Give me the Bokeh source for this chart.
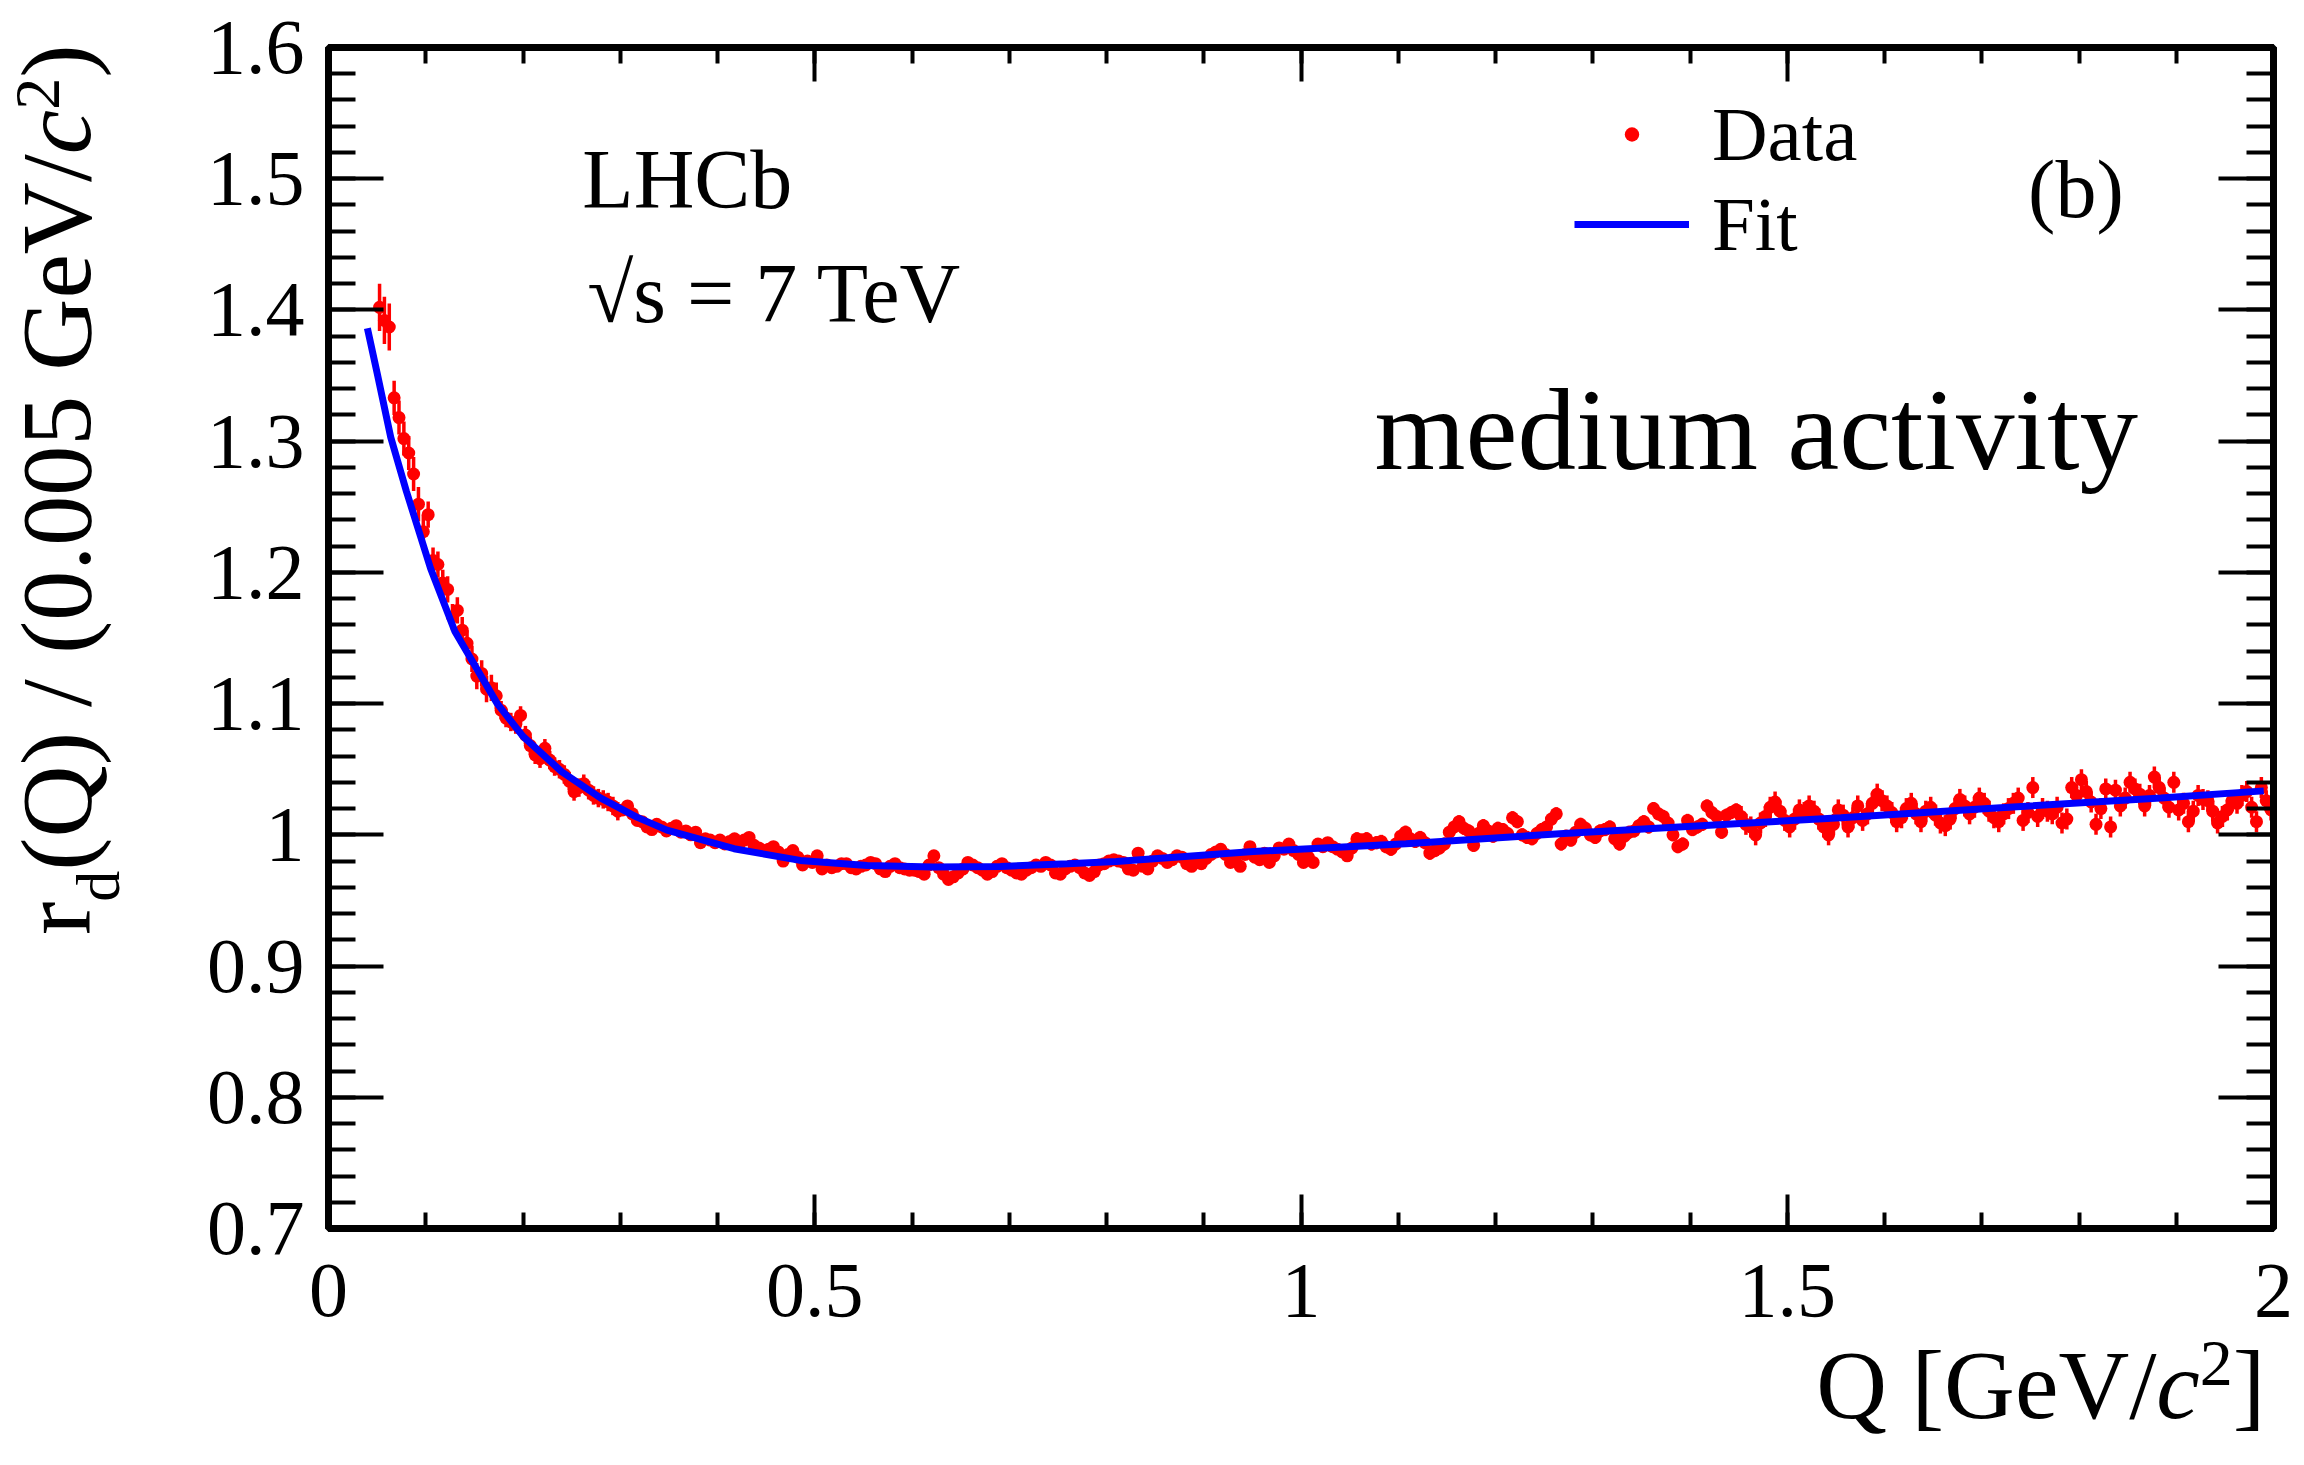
import math
from bokeh.plotting import figure
from bokeh.models import (Range1d, FixedTicker, LinearAxis, CustomJSTickFormatter,
                          Label, Legend, LegendItem, ColumnDataSource, Title)
from bokeh.embed import file_html
from bokeh.resources import INLINE

# ---------------- data ----------------
Q_FIRST = 0.0525      # centre of first filled bin [GeV/c^2]
Q_BIN = 0.005         # bin width [GeV/c^2]

r_values = [
    # 0.0525 - 0.0975
    1.402, 1.392, 1.387, 1.333, 1.318, 1.302, 1.291, 1.275, 1.252, 1.231,
    # 0.1025 - 0.1475
    1.244, 1.209, 1.206, 1.192, 1.187, 1.166, 1.171, 1.156, 1.146, 1.134,
    # 0.1525 - 0.1975
    1.121, 1.123, 1.111, 1.112, 1.106, 1.095, 1.089, 1.086, 1.084, 1.091,
    # 0.2025 - 0.2475
    1.076, 1.068, 1.061, 1.058, 1.066, 1.057, 1.052, 1.050, 1.046, 1.041,
    # 0.2525 - 0.2975
    1.033, 1.036, 1.039, 1.034, 1.030, 1.028, 1.027, 1.025, 1.022, 1.018,
    # 0.3025 - 0.3475
    1.019, 1.022, 1.016, 1.011, 1.010, 1.006, 1.004, 1.008, 1.006, 1.003,
    # 0.3525 - 0.3975
    1.005, 1.007, 1.002, 1.003, 1.000, 1.002, 0.994, 0.997, 0.996, 0.994,
    # 0.4025 - 0.4475
    0.996, 0.993, 0.995, 0.997, 0.993, 0.996, 0.998, 0.992, 0.990, 0.988,
    # 0.4525 - 0.4975
    0.989, 0.991, 0.987, 0.980, 0.985, 0.988, 0.983, 0.977, 0.980, 0.979,
    # 0.5025 - 0.5475
    0.984, 0.974, 0.977, 0.975, 0.976, 0.978, 0.978, 0.975, 0.974, 0.976,
    # 0.5525 - 0.5975
    0.977, 0.979, 0.978, 0.974, 0.972, 0.976, 0.978, 0.975, 0.974, 0.973,
    # 0.6025 - 0.6475
    0.973, 0.972, 0.970, 0.977, 0.984, 0.975, 0.970, 0.966, 0.968, 0.971,
    # 0.6525 - 0.6975
    0.974, 0.979, 0.977, 0.975, 0.973, 0.970, 0.972, 0.976, 0.978, 0.975,
    # 0.7025 - 0.7475
    0.973, 0.971, 0.970, 0.973, 0.975, 0.977, 0.976, 0.979, 0.977, 0.971,
    # 0.7525 - 0.7975
    0.970, 0.974, 0.976, 0.977, 0.975, 0.971, 0.969, 0.972, 0.977, 0.978,
    # 0.8025 - 0.8475
    0.980, 0.981, 0.980, 0.979, 0.974, 0.973, 0.986, 0.976, 0.974, 0.980,
    # 0.8525 - 0.8975
    0.984, 0.982, 0.979, 0.981, 0.984, 0.983, 0.978, 0.976, 0.980, 0.978,
    # 0.9025 - 0.9475
    0.982, 0.985, 0.987, 0.989, 0.985, 0.979, 0.980, 0.976, 0.985, 0.991,
    # 0.9525 - 0.9975
    0.983, 0.981, 0.986, 0.979, 0.984, 0.990, 0.989, 0.993, 0.988, 0.985,
    # 1.0025 - 1.0475
    0.979, 0.983, 0.979, 0.993, 0.991, 0.994, 0.991, 0.989, 0.987, 0.984,
    # 1.0525 - 1.0975
    0.990, 0.997, 0.996, 0.997, 0.993, 0.994, 0.995, 0.991, 0.989, 0.993,
    # 1.1025 - 1.1475
    0.999, 1.002, 0.997, 0.995, 0.998, 0.994, 0.986, 0.988, 0.990, 0.993,
    # 1.1525 - 1.1975
    1.002, 1.006, 1.010, 1.005, 1.003, 0.992, 1.001, 1.007, 1.003, 0.999,
    # 1.2025 - 1.2475
    1.005, 1.004, 1.001, 1.013, 1.010, 1.000, 0.998, 0.997, 1.001, 1.004,
    # 1.2525 - 1.2975
    1.006, 1.012, 1.016, 0.993, 0.999, 0.996, 1.002, 1.008, 1.005, 1.000,
    # 1.3025 - 1.3475
    0.998, 1.003, 1.004, 1.006, 0.997, 0.993, 0.999, 1.002, 1.003, 1.007,
    # 1.3525 - 1.3975
    1.010, 1.006, 1.020, 1.016, 1.014, 1.009, 1.000, 0.991, 0.993, 1.011,
    # 1.4025 - 1.4475
    1.004, 1.006, 1.008, 1.022, 1.017, 1.014, 1.002, 1.015, 1.017, 1.019,
    # 1.4525 - 1.4975
    1.014, 1.008, 1.006, 1.000, 1.009, 1.014, 1.021, 1.025, 1.018, 1.011,
    # 1.5025 - 1.5475
    1.006, 1.012, 1.019, 1.017, 1.022, 1.018, 1.012, 1.006, 1.000, 1.008,
    # 1.5525 - 1.5975
    1.019, 1.015, 1.006, 1.013, 1.022, 1.011, 1.016, 1.024, 1.031, 1.026,
    # 1.6025 - 1.6475
    1.022, 1.017, 1.010, 1.013, 1.020, 1.024, 1.016, 1.010, 1.018, 1.021,
    # 1.6525 - 1.6975
    1.015, 1.009, 1.007, 1.012, 1.020, 1.027, 1.022, 1.016, 1.021, 1.028,
    # 1.7025 - 1.7475
    1.024, 1.018, 1.013, 1.010, 1.016, 1.020, 1.024, 1.028, 1.011, 1.017,
    # 1.7525 - 1.7975
    1.036, 1.014, 1.020, 1.018, 1.016, 1.021, 1.009, 1.012, 1.036, 1.030,
    # 1.8025 - 1.8475
    1.042, 1.033, 1.025, 1.008, 1.020, 1.035, 1.006, 1.034, 1.022, 1.028,
    # 1.8525 - 1.8975
    1.040, 1.035, 1.031, 1.022, 1.030, 1.044, 1.036, 1.028, 1.021, 1.040,
    # 1.9025 - 1.9475
    1.019, 1.024, 1.010, 1.018, 1.030, 1.027, 1.026, 1.018, 1.009, 1.014,
    # 1.9525 - 1.9975
    1.019, 1.026, 1.024, 1.030, 1.033, 1.021, 1.010, 1.036, 1.026, 1.019,
]

# statistical errors (read as piecewise-constant sizes of the bars)
r_errors = ([0.018] * 3 + [0.013] * 7 + [0.010] * 15 + [0.007] * 25
            + [0.004] * 150 + [0.005] * 80 + [0.008] * 110)

# fit curve
fit_q = [0.04, 0.05, 0.064, 0.08, 0.105, 0.13, 0.1735, 0.20, 0.24, 0.28,
         0.317, 0.348, 0.417, 0.485, 0.554, 0.622, 0.691, 0.76, 0.81, 0.951,
         1.108, 1.266, 1.411, 1.555, 1.719, 1.884, 1.99]
fit_r = [1.386, 1.352, 1.303, 1.262, 1.203, 1.155, 1.100, 1.075, 1.048, 1.028,
         1.0135, 1.0036, 0.9894, 0.9805, 0.9767, 0.9754, 0.9759, 0.9780, 0.9797, 0.9873,
         0.9932, 1.0008, 1.0070, 1.0130, 1.0207, 1.0280, 1.0335]

x_ticks = [0, 0.5, 1.0, 1.5, 2.0]
y_ticks = [0.7, 0.8, 0.9, 1.0, 1.1, 1.2, 1.3, 1.4, 1.5, 1.6]
x_minor = [round(0.1 * i, 2) for i in range(21)]
y_minor = [round(0.7 + 0.02 * i, 2) for i in range(46)]

# ---------------- figure ----------------
q_values = [round(Q_FIRST + Q_BIN * i, 4) for i in range(len(r_values))]
src = ColumnDataSource(dict(
    q=q_values, r=r_values,
    lo=[v - e for v, e in zip(r_values, r_errors)],
    hi=[v + e for v, e in zip(r_values, r_errors)],
))

FONT = "Liberation Serif"
TICK_FS = 78

p = figure(width=2300, height=1460, output_backend="svg", toolbar_location=None,
           x_range=Range1d(0, 2), y_range=Range1d(0.7, 1.6),
           min_border_left=328, min_border_right=27, min_border_top=47,
           min_border_bottom=232)
p.grid.visible = False
p.background_fill_color = "white"
p.border_fill_color = "white"
p.outline_line_color = "black"
p.outline_line_width = 7

num_fmt = CustomJSTickFormatter(code="return String(Math.round(tick*100)/100);")
blank_fmt = CustomJSTickFormatter(code="return '';")


def style_axis(ax, ticks, minor, major_len, minor_len, labels, standoff):
    ax.ticker = FixedTicker(ticks=ticks, minor_ticks=minor)
    ax.formatter = num_fmt if labels else blank_fmt
    ax.axis_line_width = 7
    ax.axis_line_color = "black"
    ax.major_tick_line_width = 4
    ax.minor_tick_line_width = 4
    ax.major_tick_line_color = "black"
    ax.minor_tick_line_color = "black"
    ax.major_tick_in = major_len
    ax.major_tick_out = 0
    ax.minor_tick_in = minor_len
    ax.minor_tick_out = 0
    ax.major_label_text_font = FONT
    ax.major_label_text_font_size = f"{TICK_FS}px"
    ax.major_label_text_color = "black"
    ax.major_label_standoff = standoff


style_axis(p.xaxis[0], x_ticks, x_minor, 34, 16, True, 36)
style_axis(p.yaxis[0], y_ticks, y_minor, 55, 27, True, 24)
top_ax = LinearAxis()
right_ax = LinearAxis()
style_axis(top_ax, x_ticks, x_minor, 34, 16, False, 0)
style_axis(right_ax, y_ticks, y_minor, 55, 27, False, 0)
p.add_layout(top_ax, "above")
p.add_layout(right_ax, "right")

p.segment(x0="q", y0="lo", x1="q", y1="hi", source=src,
          line_color="#ff0000", line_width=3.5)
data_r = p.scatter(x="q", y="r", source=src, size=13, marker="circle",
                   fill_color="#ff0000", line_color="#ff0000", line_width=0)
fit_line = p.line(fit_q, fit_r, line_color="#0000ff", line_width=7)

legend = Legend(items=[LegendItem(label="Data", renderers=[data_r]),
                       LegendItem(label="Fit", renderers=[fit_line])],
                location=(1246, 959), glyph_width=115, glyph_height=36,
                label_height=90, spacing=0, padding=0, margin=0,
                label_standoff=23, label_text_font=FONT,
                label_text_font_size="77px", label_text_color="black",
                border_line_color=None, background_fill_alpha=0)
p.add_layout(legend)


def lab(text, x, y, size, align="left", style="normal"):
    p.add_layout(Label(x=x, y=y, text=text, text_font=FONT,
                       text_font_size=f"{size}px", text_font_style=style,
                       text_align=align, text_baseline="middle",
                       text_color="black"))


lab("LHCb", 0.261, 1.4991, 84)
lab("√s = 7 TeV", 0.266, 1.4122, 84)
lab("(b)", 1.846, 1.4917, 82, align="right")
lab("medium activity", 1.0756, 1.309, 117)


# ---- axis titles: pieces placed as titles in the side panels ----
def zero(fs):
    # standoff that makes a title take (almost) no room in its panel
    return -(2 + 1.14 * fs)


def piece(side, text, fs, offset, style="normal"):
    p.add_layout(Title(text=text, align="left", vertical_align="middle",
                       offset=offset, standoff=zero(fs), text_font=FONT,
                       text_font_size=f"{fs}px", text_font_style=style,
                       text_color="black"), side)


def spacer(side, thickness):
    p.add_layout(Title(text=" ", text_font=FONT, text_font_size="1px",
                       standoff=thickness - 3.1), side)


# y title  r_d(Q) / (0.005 GeV/c^2)   (pieces laid out along the axis)
FY, FD, FS = 100, 62, 64
y_r = 293.5
y_d = y_r + 0.333 * FY
y_main = y_d + 0.5 * FD
y_c = y_main + 7.165 * FY
y_sup = y_c + 0.444 * FY
y_close = y_sup + 0.5 * FS
spacer("left", 106.2)
piece("left", "d", FD, y_d)
spacer("left", 41.3)
piece("left", "r", FY, y_r)
piece("left", "(Q) / (0.005 GeV/", FY, y_main)
piece("left", "c", FY, y_c, style="italic")
piece("left", ")", FY, y_close)
spacer("left", 19.4)
piece("left", "2", FS, y_sup)

# x title  Q [GeV/c^2]
FX, FXS = 98, 66
x_q = 1487.7
x_c = x_q + 3.471 * FX
x_sup = x_c + 0.444 * FX
x_close = x_sup + 0.5 * FXS
spacer("below", 45)
piece("below", "2", FXS, x_sup)
spacer("below", 21)
piece("below", "Q [GeV/", FX, x_q)
piece("below", "c", FX, x_c, style="italic")
piece("below", "]", FX, x_close)

open("out.html", "w").write(file_html(p, INLINE))
